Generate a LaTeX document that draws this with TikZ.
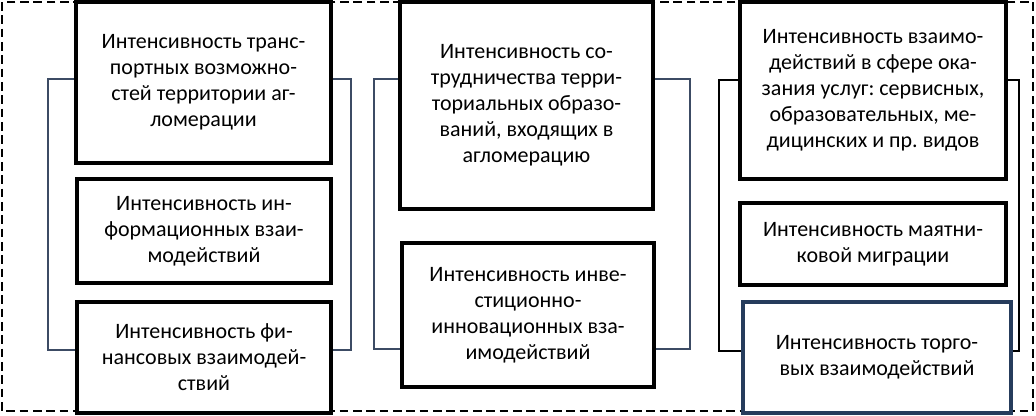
\documentclass[tikz,border=0pt]{standalone}
\usepackage{fontspec}
\setmainfont{Carlito}
\frenchspacing
\definecolor{linkgray}{RGB}{60,75,100}
\definecolor{navy}{RGB}{38,60,92}
\begin{document}
\begin{tikzpicture}[x=0.75pt, y=-0.75pt,
  box/.style={draw, line width=2.8pt, fill=white, align=center, inner sep=0pt,
    font=\fontsize{16.5}{19.5}\selectfont},
  link/.style={draw=linkgray, line width=1.1pt}]
\useasboundingbox (0,0) rectangle (1036,415);
% outer frame
\draw[line width=2pt, dash pattern=on 6.5pt off 3.5pt] (2,2) rectangle (1033,411);
% first column
\node[box, minimum width=255*0.75pt, minimum height=161*0.75pt] (a1) at (203.5,82.5) {Интенсивность транс-\\портных возможно-\\стей территории аг-\\ломерации};
\node[box, minimum width=254*0.75pt, minimum height=104*0.75pt] (a2) at (204,231) {Интенсивность ин-\\формационных взаи-\\модействий};
\node[box, minimum width=254*0.75pt, minimum height=111*0.75pt] (a3) at (204,357.5) {Интенсивность фи-\\нансовых взаимодей-\\ствий};
% second column
\node[box, minimum width=253*0.75pt, minimum height=207*0.75pt] (b1) at (526.5,105.5) {Интенсивность со-\\трудничества терри-\\ториальных образо-\\ваний, входящих в\\агломерацию};
\node[box, minimum width=252*0.75pt, minimum height=144*0.75pt] (b2) at (528,315) {Интенсивность инве-\\стиционно-\\инновационных вза-\\имодействий};
% third column
\node[box, minimum width=266*0.75pt, minimum height=177*0.75pt] (c1) at (873,90.5) {Интенсивность взаимо-\\действий в сфере ока-\\зания услуг: сервисных,\\образовательных, ме-\\дицинских и пр. видов};
\node[box, minimum width=266*0.75pt, minimum height=82*0.75pt] (c2) at (873,244) {Интенсивность маятни-\\ковой миграции};
\node[box, draw=navy, line width=2.4pt, minimum width=268*0.75pt, minimum height=111*0.75pt] (c3) at (877,357.5) {Интенсивность торго-\\вых взаимодействий};
% brackets
\draw[link] (a1.west |- 0,79) -- ++(-26,0) |- (a3.west |- 0,350);
\draw[link] (a1.east |- 0,79) -- ++(18,0) |- (a3.east |- 0,350);
\draw[link] (b1.west |- 0,79) -- ++(-24,0) |- (b2.west |- 0,349);
\draw[link] (b1.east |- 0,79) -- ++(35,0) |- (b2.east |- 0,349);
\draw[link, draw=black] (c1.west |- 0,80) -- ++(-19,0) |- (c3.west |- 0,351);
\draw[link, draw=black] (c1.east |- 0,80) -- ++(11,0) |- (c3.east |- 0,351);
\end{tikzpicture}
\end{document}
